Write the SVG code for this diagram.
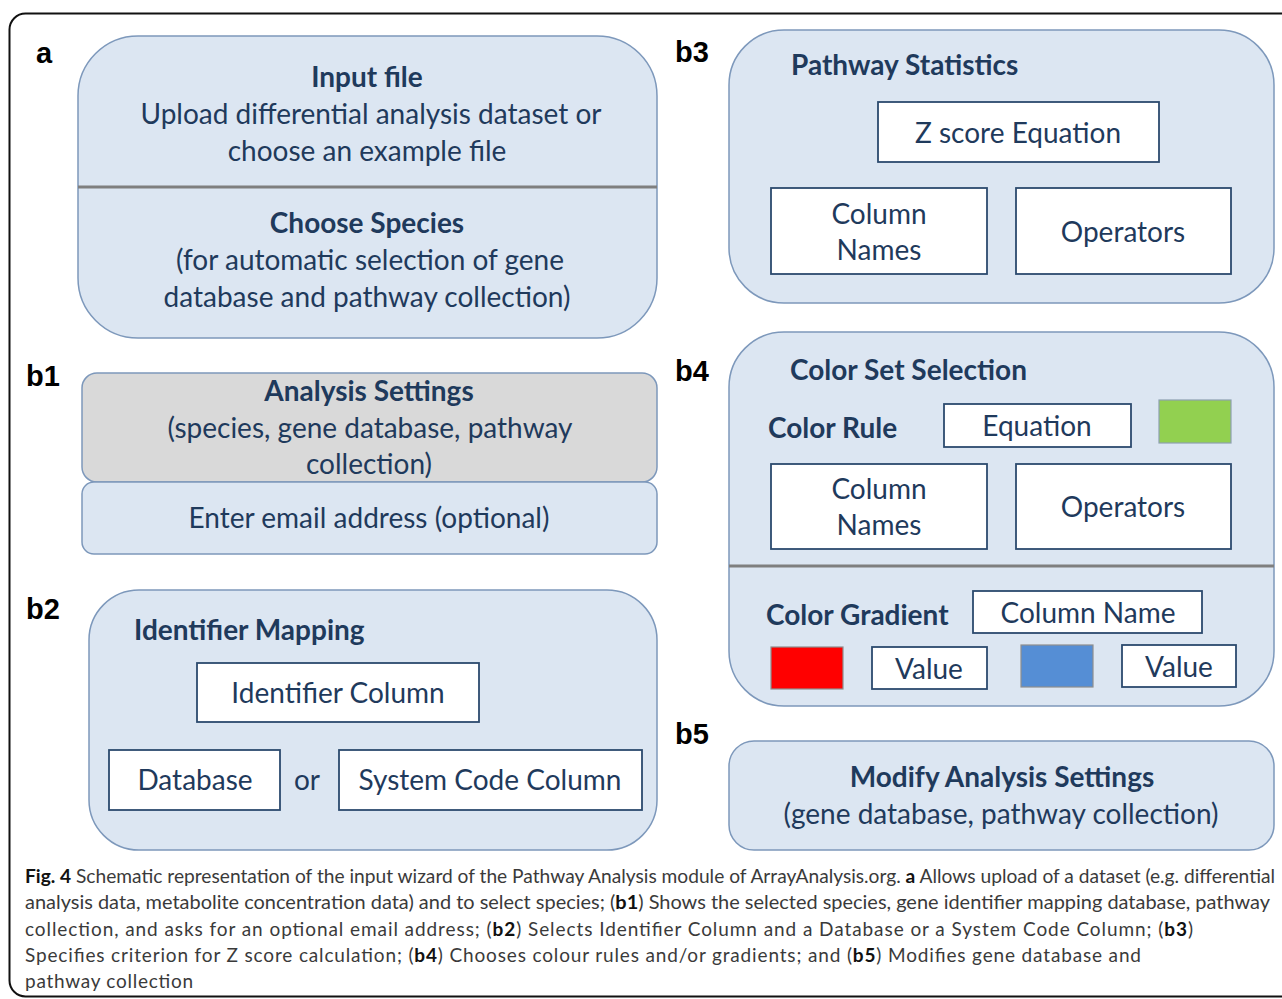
<svg xmlns="http://www.w3.org/2000/svg" width="1282" height="999" viewBox="0 0 1282 999">
<style>
.panel{fill:#dce6f2;stroke:#7d98bb;stroke-width:1.5}
.grey{fill:#d9d9d9;stroke:#7d98bb;stroke-width:1.5}
.wbox{fill:#ffffff;stroke:#2c4a6e;stroke-width:1.8}
.div{stroke:#7f7f7f;stroke-width:3}
.t{font-family:Lato,"Liberation Sans",sans-serif;font-size:28px;fill:#1f3a5c}
.tb{font-family:Lato,"Liberation Sans",sans-serif;font-size:28px;font-weight:bold;fill:#1f3a5c}
.c{text-anchor:middle}
.lab{font-family:"Liberation Sans",Arial,sans-serif;font-size:29px;font-weight:bold;fill:#000}
.cap{font-family:Lato,"Open Sans",sans-serif;font-size:19px;fill:#3a3a3a}
.cap tspan.b{font-weight:bold;fill:#111}
</style>
<rect x="0" y="0" width="1282" height="999" fill="#ffffff"/>
<rect x="9.5" y="13.5" width="1300" height="983" rx="16" fill="none" stroke="#111" stroke-width="2"/>

<g id="labels">
<text class="lab" x="36" y="63">a</text>
<text class="lab" x="26" y="386">b1</text>
<text class="lab" x="26" y="619">b2</text>
<text class="lab" x="675" y="62">b3</text>
<text class="lab" x="675" y="381">b4</text>
<text class="lab" x="675" y="744">b5</text>
</g>

<g id="node-a">
<rect class="panel" x="78" y="36" width="579" height="302" rx="60"/>
<line class="div" x1="78" y1="187" x2="657" y2="187"/>
<text class="tb c" x="367" y="87">Input file</text>
<text class="t c" x="371" y="124">Upload differential analysis dataset or</text>
<text class="t c" x="367" y="161">choose an example file</text>
<text class="tb c" x="367" y="233">Choose Species</text>
<text class="t c" x="370" y="270">(for automatic selection of gene</text>
<text class="t c" x="367" y="307">database and pathway collection)</text>
</g>

<g id="node-b1">
<rect class="grey" x="82" y="373" width="575" height="109" rx="15"/>
<rect class="panel" x="82" y="482" width="575" height="72" rx="12"/>
<text class="tb c" x="369" y="401">Analysis Settings</text>
<text class="t c" x="370" y="438">(species, gene database, pathway</text>
<text class="t c" x="369" y="474">collection)</text>
<text class="t c" x="369" y="528">Enter email address (optional)</text>
</g>

<g id="node-b2">
<rect class="panel" x="89" y="590" width="568" height="260" rx="50"/>
<text class="tb" x="134" y="640">Identifier Mapping</text>
<rect class="wbox" x="197" y="663" width="282" height="59"/>
<text class="t c" x="338" y="703">Identifier Column</text>
<rect class="wbox" x="109" y="750" width="171" height="60"/>
<text class="t c" x="195" y="790">Database</text>
<text class="t c" x="307" y="790">or</text>
<rect class="wbox" x="339" y="750" width="303" height="60"/>
<text class="t c" x="490" y="790">System Code Column</text>
</g>

<g id="node-b3">
<rect class="panel" x="729" y="30" width="545" height="273" rx="55"/>
<text class="tb" x="791" y="75">Pathway Statistics</text>
<rect class="wbox" x="878" y="102" width="281" height="60"/>
<text class="t c" x="1018" y="143">Z score Equation</text>
<rect class="wbox" x="771" y="188" width="216" height="86"/>
<text class="t c" x="879" y="224">Column</text>
<text class="t c" x="879" y="260">Names</text>
<rect class="wbox" x="1016" y="188" width="215" height="86"/>
<text class="t c" x="1123" y="242">Operators</text>
</g>

<g id="node-b4">
<rect class="panel" x="729" y="332" width="545" height="374" rx="55"/>
<line class="div" x1="729" y1="566" x2="1274" y2="566"/>
<text class="tb" x="790" y="380">Color Set Selection</text>
<text class="tb" x="768" y="438">Color Rule</text>
<rect class="wbox" x="944" y="404" width="187" height="43"/>
<text class="t c" x="1037" y="436">Equation</text>
<rect x="1159" y="400" width="72" height="43" fill="#92d050" stroke="#8ea0b0" stroke-width="1.2"/>
<rect class="wbox" x="771" y="464" width="216" height="85"/>
<text class="t c" x="879" y="499">Column</text>
<text class="t c" x="879" y="535">Names</text>
<rect class="wbox" x="1016" y="464" width="215" height="85"/>
<text class="t c" x="1123" y="517">Operators</text>
<text class="tb" x="766" y="625">Color Gradient</text>
<rect class="wbox" x="973" y="591" width="229" height="42"/>
<text class="t c" x="1088" y="623">Column Name</text>
<rect x="771" y="647" width="72" height="42" fill="#ff0000" stroke="#8e8e8e" stroke-width="1.2"/>
<rect class="wbox" x="872" y="647" width="115" height="42"/>
<text class="t c" x="929" y="679">Value</text>
<rect x="1021" y="645" width="72" height="42" fill="#558ed5" stroke="#8e8e8e" stroke-width="1.2"/>
<rect class="wbox" x="1122" y="645" width="114" height="42"/>
<text class="t c" x="1179" y="677">Value</text>
</g>

<g id="node-b5">
<rect class="panel" x="729" y="741" width="545" height="109" rx="25"/>
<text class="tb c" x="1002" y="787">Modify Analysis Settings</text>
<text class="t c" x="1001" y="824">(gene database, pathway collection)</text>
</g>

<g id="connectors"></g>

<g id="caption">
<text class="cap" x="25" y="883" textLength="1250" lengthAdjust="spacingAndGlyphs"><tspan class="b">Fig. 4</tspan> Schematic representation of the input wizard of the Pathway Analysis module of ArrayAnalysis.org. <tspan class="b">a</tspan> Allows upload of a dataset (e.g. differential</text>
<text class="cap" x="25" y="909" textLength="1245" lengthAdjust="spacingAndGlyphs">analysis data, metabolite concentration data) and to select species; (<tspan class="b">b1</tspan>) Shows the selected species, gene identifier mapping database, pathway</text>
<text class="cap" x="25" y="936" textLength="1168" lengthAdjust="spacing">collection, and asks for an optional email address; (<tspan class="b">b2</tspan>) Selects Identifier Column and a Database or a System Code Column; (<tspan class="b">b3</tspan>)</text>
<text class="cap" x="25" y="962" textLength="1116" lengthAdjust="spacing">Specifies criterion for Z score calculation; (<tspan class="b">b4</tspan>) Chooses colour rules and/or gradients; and (<tspan class="b">b5</tspan>) Modifies gene database and</text>
<text class="cap" x="25" y="988" textLength="168" lengthAdjust="spacing">pathway collection</text>
</g>
</svg>
